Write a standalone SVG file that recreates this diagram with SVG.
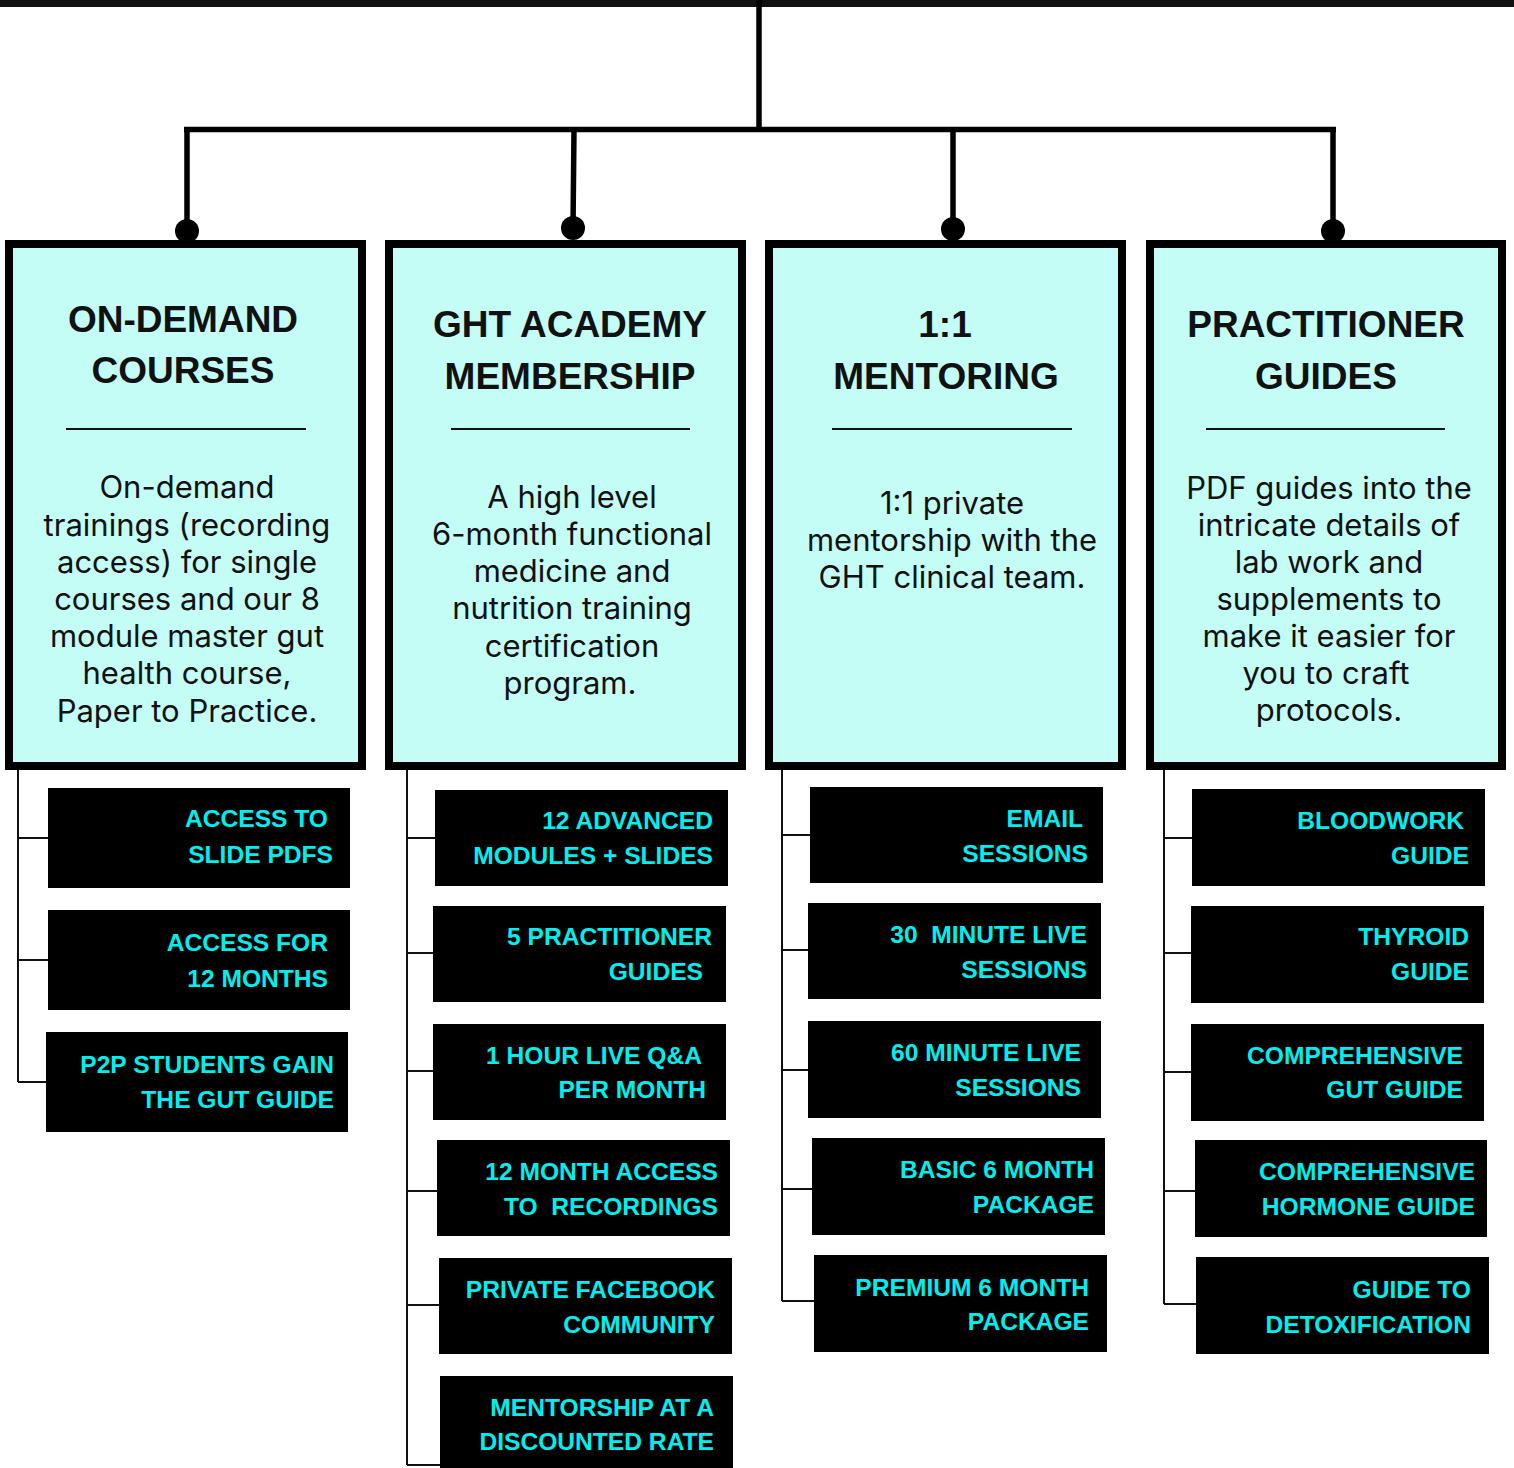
<svg xmlns="http://www.w3.org/2000/svg" width="1514" height="1468" viewBox="0 0 1514 1468">
<style>
.box{fill:#c4fdf6;stroke:#000;stroke-width:8}
.title{font-family:"Liberation Sans",Arial,sans-serif;font-weight:bold;font-size:37px;fill:#111;text-anchor:middle}
.body{font-family:Inter,"Noto Sans",sans-serif;font-size:31px;fill:#111;text-anchor:middle}
.sep{stroke:#111;stroke-width:2}
.child{fill:#000}
.ct{font-family:"Liberation Sans",Arial,sans-serif;font-weight:bold;font-size:24.6px;fill:#00efee;text-anchor:end}
.main{stroke:#000;stroke-width:5.5;fill:none}
.sub{stroke:#111;stroke-width:2;fill:none}
</style>
<rect width="1514" height="1468" fill="#fff"/>
<g id="connectors">
<rect x="0" y="0" width="1514" height="7" fill="#111"/>
<path class="main" d="M759 0 V129.5 M184 129.5 H1336 M187 129.5 V231 M574 129.5 L573 228 M953 129.5 V229 M1333 129.5 V231"/>
<circle cx="187" cy="231" r="12"/>
<circle cx="573" cy="228" r="12"/>
<circle cx="953" cy="229" r="12"/>
<circle cx="1333" cy="231" r="12"/>
<path class="sub" d="M18 770 V1082 M18 838 H48 M18 960 H48 M18 1082 H46"/>
<path class="sub" d="M407 770 V1465 M407 838 H435 M407 953 H433 M407 1071 H433 M407 1191 H437 M407 1305 H439 M407 1465 H440"/>
<path class="sub" d="M782 770 V1301 M782 835 H810 M782 950 H808 M782 1070 H808 M782 1189 H812 M782 1301 H814"/>
<path class="sub" d="M1164 770 V1304 M1164 838 H1192 M1164 953 H1191 M1164 1072 H1191 M1164 1191 H1195 M1164 1304 H1196"/>
</g>
<g id="node-ondemand">
<rect class="box" x="9" y="244" width="353" height="522"/>
<text class="title" x="183" y="332">ON-DEMAND</text>
<text class="title" x="183" y="383">COURSES</text>
<line class="sep" x1="66" y1="429" x2="306" y2="429"/>
<text class="body" x="187" y="498">On-demand</text>
<text class="body" x="187" y="536">trainings (recording</text>
<text class="body" x="187" y="573">access) for single</text>
<text class="body" x="187" y="610">courses and our 8</text>
<text class="body" x="187" y="647">module master gut</text>
<text class="body" x="187" y="684">health course,</text>
<text class="body" x="187" y="722">Paper to Practice.</text>
</g>
<g id="node-academy">
<rect class="box" x="389" y="244" width="353" height="522"/>
<text class="title" x="570" y="337">GHT ACADEMY</text>
<text class="title" x="570" y="389">MEMBERSHIP</text>
<line class="sep" x1="451" y1="429" x2="690" y2="429"/>
<text class="body" x="572" y="508">A high level</text>
<text class="body" x="572" y="545">6-month functional</text>
<text class="body" x="572" y="582">medicine and</text>
<text class="body" x="572" y="619">nutrition training</text>
<text class="body" x="572" y="657">certification</text>
<text class="body" x="570" y="694">program.</text>
</g>
<g id="node-mentoring">
<rect class="box" x="769" y="244" width="353" height="522"/>
<text class="title" x="945" y="337">1:1</text>
<text class="title" x="946" y="389">MENTORING</text>
<line class="sep" x1="832" y1="429" x2="1072" y2="429"/>
<text class="body" x="952" y="514">1:1 private</text>
<text class="body" x="952" y="551">mentorship with the</text>
<text class="body" x="952" y="588">GHT clinical team.</text>
</g>
<g id="node-guides">
<rect class="box" x="1150" y="244" width="352" height="522"/>
<text class="title" x="1326" y="337">PRACTITIONER</text>
<text class="title" x="1326" y="389">GUIDES</text>
<line class="sep" x1="1206" y1="429" x2="1445" y2="429"/>
<text class="body" x="1329" y="499">PDF guides into the</text>
<text class="body" x="1329" y="536">intricate details of</text>
<text class="body" x="1329" y="573">lab work and</text>
<text class="body" x="1329" y="610">supplements to</text>
<text class="body" x="1329" y="647">make it easier for</text>
<text class="body" x="1326" y="684">you to craft</text>
<text class="body" x="1329" y="721">protocols.</text>
</g>
<g id="c1-1"><rect class="child" x="48" y="788" width="302" height="100"/><text class="ct" x="328" y="827">ACCESS TO</text><text class="ct" x="333" y="863">SLIDE PDFS</text></g>
<g id="c1-2"><rect class="child" x="48" y="910" width="302" height="100"/><text class="ct" x="328" y="951">ACCESS FOR</text><text class="ct" x="328" y="987">12 MONTHS</text></g>
<g id="c1-3"><rect class="child" x="46" y="1032" width="302" height="100"/><text class="ct" x="334" y="1073">P2P STUDENTS GAIN</text><text class="ct" x="334" y="1108">THE GUT GUIDE</text></g>
<g id="c2-1"><rect class="child" x="435" y="790" width="293" height="96"/><text class="ct" x="713" y="829">12 ADVANCED</text><text class="ct" x="713" y="864">MODULES + SLIDES</text></g>
<g id="c2-2"><rect class="child" x="433" y="906" width="293" height="96"/><text class="ct" x="712" y="945">5 PRACTITIONER</text><text class="ct" x="703" y="980">GUIDES</text></g>
<g id="c2-3"><rect class="child" x="433" y="1024" width="293" height="96"/><text class="ct" x="702" y="1064">1 HOUR LIVE Q&amp;A</text><text class="ct" x="706" y="1098">PER MONTH</text></g>
<g id="c2-4"><rect class="child" x="437" y="1140" width="293" height="96"/><text class="ct" x="718" y="1180">12 MONTH ACCESS</text><text class="ct" x="718" y="1215">TO&#160;&#160;RECORDINGS</text></g>
<g id="c2-5"><rect class="child" x="439" y="1258" width="293" height="96"/><text class="ct" x="715" y="1298">PRIVATE FACEBOOK</text><text class="ct" x="715" y="1333">COMMUNITY</text></g>
<g id="c2-6"><rect class="child" x="440" y="1376" width="293" height="92"/><text class="ct" x="714" y="1416">MENTORSHIP AT A</text><text class="ct" x="714" y="1450">DISCOUNTED RATE</text></g>
<g id="c3-1"><rect class="child" x="810" y="787" width="293" height="96"/><text class="ct" x="1083" y="827">EMAIL</text><text class="ct" x="1088" y="862">SESSIONS</text></g>
<g id="c3-2"><rect class="child" x="808" y="903" width="293" height="96"/><text class="ct" x="1087" y="943">30&#160;&#160;MINUTE LIVE</text><text class="ct" x="1087" y="978">SESSIONS</text></g>
<g id="c3-3"><rect class="child" x="808" y="1021" width="293" height="97"/><text class="ct" x="1081" y="1061">60 MINUTE LIVE</text><text class="ct" x="1081" y="1096">SESSIONS</text></g>
<g id="c3-4"><rect class="child" x="812" y="1138" width="293" height="97"/><text class="ct" x="1094" y="1178">BASIC 6 MONTH</text><text class="ct" x="1094" y="1213">PACKAGE</text></g>
<g id="c3-5"><rect class="child" x="814" y="1255" width="293" height="97"/><text class="ct" x="1089" y="1296">PREMIUM 6 MONTH</text><text class="ct" x="1089" y="1330">PACKAGE</text></g>
<g id="c4-1"><rect class="child" x="1192" y="789" width="293" height="97"/><text class="ct" x="1464" y="829">BLOODWORK</text><text class="ct" x="1469" y="864">GUIDE</text></g>
<g id="c4-2"><rect class="child" x="1191" y="906" width="293" height="97"/><text class="ct" x="1469" y="945">THYROID</text><text class="ct" x="1469" y="980">GUIDE</text></g>
<g id="c4-3"><rect class="child" x="1191" y="1024" width="293" height="97"/><text class="ct" x="1463" y="1064">COMPREHENSIVE</text><text class="ct" x="1463" y="1098">GUT GUIDE</text></g>
<g id="c4-4"><rect class="child" x="1195" y="1140" width="292" height="97"/><text class="ct" x="1475" y="1180">COMPREHENSIVE</text><text class="ct" x="1475" y="1215">HORMONE GUIDE</text></g>
<g id="c4-5"><rect class="child" x="1196" y="1257" width="293" height="97"/><text class="ct" x="1471" y="1298">GUIDE TO</text><text class="ct" x="1471" y="1333">DETOXIFICATION</text></g>
</svg>
